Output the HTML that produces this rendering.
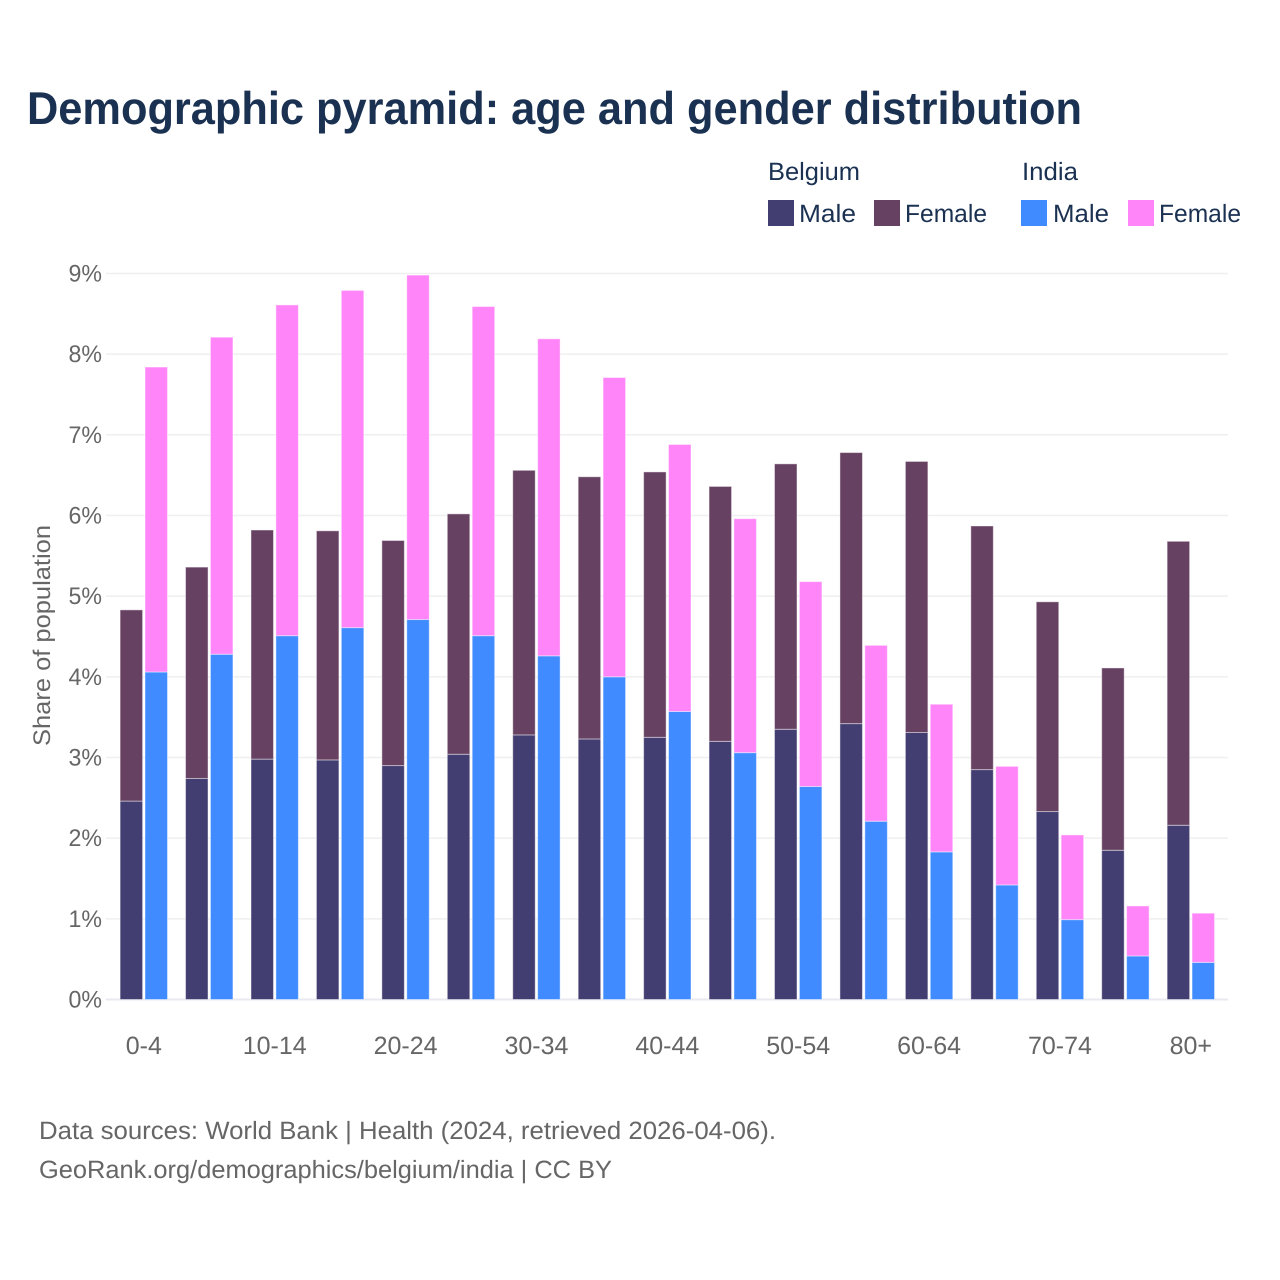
<!DOCTYPE html>
<html lang="en">
<head>
<meta charset="utf-8">
<title>Demographic pyramid: age and gender distribution</title>
<style>
html,body{margin:0;padding:0;background:#fff;}
svg{display:block;}
text{font-family:"Liberation Sans",sans-serif;text-rendering:geometricPrecision;}
</style>
</head>
<body>
<svg id="chart" xmlns="http://www.w3.org/2000/svg" width="1280" height="1280" viewBox="0 0 1280 1280">
  <rect x="0" y="0" width="1280" height="1280" fill="#ffffff"/>
  <text x="27" y="124" font-size="46" font-weight="700" fill="#1a3152" textLength="1055" lengthAdjust="spacingAndGlyphs">Demographic pyramid: age and gender distribution</text>

  <g>
    <text x="768" y="180" font-size="25" fill="#1a3152" textLength="92" lengthAdjust="spacingAndGlyphs">Belgium</text>
    <text x="1022" y="180" font-size="25" fill="#1a3152" textLength="56" lengthAdjust="spacingAndGlyphs">India</text>
    <rect x="768" y="200" width="26" height="26" fill="#433e71"/>
    <text x="799" y="222" font-size="25" fill="#1a3152" textLength="57" lengthAdjust="spacingAndGlyphs">Male</text>
    <rect x="874" y="200" width="26" height="26" fill="#674162"/>
    <text x="905" y="222" font-size="25" fill="#1a3152" textLength="82" lengthAdjust="spacingAndGlyphs">Female</text>
    <rect x="1021" y="200" width="26" height="26" fill="#3f8bff"/>
    <text x="1053" y="222" font-size="25" fill="#1a3152" textLength="56" lengthAdjust="spacingAndGlyphs">Male</text>
    <rect x="1128" y="200" width="26" height="26" fill="#ff85f8"/>
    <text x="1159" y="222" font-size="25" fill="#1a3152" textLength="82" lengthAdjust="spacingAndGlyphs">Female</text>
  </g>

  <text transform="translate(50,746) rotate(-90)" x="0" y="0" font-size="24" fill="#666666" textLength="221" lengthAdjust="spacingAndGlyphs">Share of population</text>

  <g id="grid"></g>
  <g id="bars"></g>
  <g id="yticks"></g>
  <g id="xticks"></g>

  <text x="39" y="1139" font-size="25" fill="#666666" textLength="737" lengthAdjust="spacingAndGlyphs">Data sources: World Bank | Health (2024, retrieved 2026-04-06).</text>
  <text x="39" y="1178" font-size="25" fill="#666666" textLength="573" lengthAdjust="spacingAndGlyphs">GeoRank.org/demographics/belgium/india | CC BY</text>
</svg>
<script>
const ageGroups = ["0-4","5-9","10-14","15-19","20-24","25-29","30-34","35-39","40-44","45-49","50-54","55-59","60-64","65-69","70-74","75-79","80+"];
const xTickLabels = ["0-4","10-14","20-24","30-34","40-44","50-54","60-64","70-74","80+"];
const yTickValues = [0,1,2,3,4,5,6,7,8,9];
const belgiumMale = [2.46,2.74,2.98,2.97,2.90,3.04,3.28,3.23,3.25,3.20,3.35,3.42,3.31,2.85,2.33,1.85,2.16];
const belgiumFemale = [2.37,2.62,2.84,2.84,2.79,2.98,3.28,3.25,3.29,3.16,3.29,3.36,3.36,3.02,2.60,2.26,3.52];
const indiaMale = [4.06,4.28,4.51,4.61,4.71,4.51,4.26,4.00,3.57,3.06,2.64,2.21,1.83,1.42,0.99,0.54,0.46];
const indiaFemale = [3.78,3.93,4.10,4.18,4.27,4.08,3.93,3.71,3.31,2.90,2.54,2.18,1.83,1.47,1.05,0.62,0.61];

const NS = "http://www.w3.org/2000/svg";
const plot = {left:106, right:1228, y0:999.5, pxPerUnit:80.67, firstCenter:143.8, step:65.44, barW:22.5, gap:2.4};

function yScale(v){ return plot.y0 - v * plot.pxPerUnit; }
function xCenter(i){ return plot.firstCenter + i * plot.step; }
function make(tag, attrs, parent){
  const el = document.createElementNS(NS, tag);
  for (const k in attrs) el.setAttribute(k, attrs[k]);
  parent.appendChild(el);
  return el;
}

const gridG = document.getElementById("grid");
const ytG = document.getElementById("yticks");
yTickValues.forEach(function(v){
  const line = make("line", {x1:plot.left, x2:plot.right, y1:yScale(v), y2:yScale(v), stroke:v===0?"#e9e9f0":"#efeff1", "stroke-width":v===0?2:1.5}, gridG);
  
  
  const t = make("text", {x:102, y:yScale(v)+8, "text-anchor":"end", "font-size":24, fill:"#666666", textLength:33.5, lengthAdjust:"spacingAndGlyphs"}, ytG);
  
  
  t.textContent = v + "%";
});

const xtG = document.getElementById("xticks");
xTickLabels.forEach(function(label){
  const i = ageGroups.indexOf(label);
  const t = make("text", {x:xCenter(i), y:1054, "text-anchor":"middle", "font-size":25, fill:"#666666"}, xtG);
  
  
  t.textContent = label;
});

const barsG = document.getElementById("bars");
function drawSegment(x, base, value, fill, name){
  const top = yScale(base + value);
  const bottom = yScale(base);
  const r = make("rect", {x:x, y:top, width:plot.barW, height:bottom-top, fill:fill, stroke:"#ffffff", "stroke-opacity":0.45, "stroke-width":1}, barsG);
  
  
}
ageGroups.forEach(function(g, i){
  const c = xCenter(i);
  const xB = c - plot.gap/2 - plot.barW;
  const xI = c + plot.gap/2;
  drawSegment(xB, 0, belgiumMale[i], "#433e71", "bar-belgium-male");
  drawSegment(xB, belgiumMale[i], belgiumFemale[i], "#674162", "bar-belgium-female");
  drawSegment(xI, 0, indiaMale[i], "#3f8bff", "bar-india-male");
  drawSegment(xI, indiaMale[i], indiaFemale[i], "#ff85f8", "bar-india-female");
});
</script>
</body>
</html>
